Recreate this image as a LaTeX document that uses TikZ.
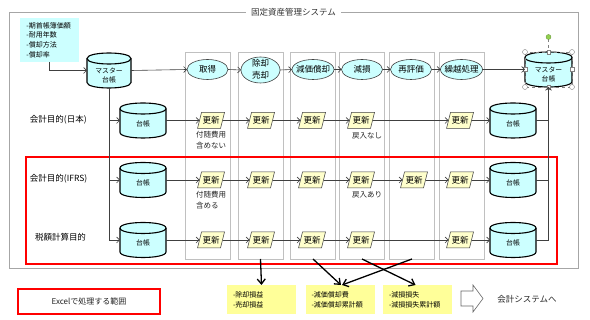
\documentclass[tikz,border=0pt]{standalone}
\usepackage{fontspec}
\setmainfont{Noto Sans CJK JP}
\usetikzlibrary{arrows.meta,shapes.geometric,calc}
\definecolor{cyanf}{HTML}{CCFFFF}
\definecolor{updf}{HTML}{FFFFCC}
\definecolor{yelf}{HTML}{FFFF99}
\definecolor{grayl}{HTML}{C0C0C0}
\definecolor{frameg}{HTML}{A6A6A6}
\definecolor{linec}{HTML}{404040}
\definecolor{handleg}{HTML}{92D050}
\newcommand{\dbcyl}[7]{%
 \filldraw[cylst] ({#2-#4},{#3-#5+5.5}) -- ({#2-#4},{#3+#5-5.5}) .. controls ({#2-#4},{#3+#5+1.83}) and ({#2+#4},{#3+#5+1.83}) .. ({#2+#4},{#3+#5-5.5}) -- ({#2+#4},{#3-#5+5.5}) .. controls ({#2+#4},{#3-#5-1.83}) and ({#2-#4},{#3-#5-1.83}) .. cycle;
 \draw[cylline] ({#2-#4},{#3-#5+5.5}) .. controls ({#2-#4},{#3-#5+12.83}) and ({#2+#4},{#3-#5+12.83}) .. ({#2+#4},{#3-#5+5.5});
 \node[minimum width={2*#4},minimum height={2*#5}] (#1) at (#2,#3) {};
 \node[cyltext] (#1t) at (#2,{#3+#7}) {#6};
}
\newcommand{\updbox}[3]{%
 \filldraw[updst] ({#2-13.5},{#3+8}) -- ({#2-9.5},{#3-8}) -- ({#2+13.5},{#3-8}) -- ({#2+9.5},{#3+8}) -- cycle;
 \node[updtext] (#1) at (#2,#3) {更新};
}
\begin{document}
\begin{tikzpicture}[x=1pt,y=-1pt,
  every node/.style={inner sep=0pt,outer sep=0pt,text=black},
  cylst/.style={draw=black,line width=1.1pt,fill=cyanf},
  cylline/.style={draw=black,line width=1.1pt},
  cyltext/.style={align=center,font=\fontsize{6.8}{8.3}\selectfont},
  updst/.style={draw=linec,line width=0.5pt,fill=updf},
  updtext/.style={minimum width=23pt,minimum height=15pt,font=\fontsize{8.5}{9}\selectfont},
  proc/.style={ellipse,draw=linec,line width=0.6pt,fill=cyanf,font=\fontsize{8.5}{10}\selectfont},
  colbox/.style={draw=grayl,line width=0.8pt,minimum width=45pt,minimum height=207pt},
  conn/.style={draw=linec,line width=0.6pt,-{Straight Barb[length=3pt,width=6pt]}},
  plainln/.style={draw=linec,line width=0.6pt},
  bigarr/.style={draw=black,line width=1.3pt,-{Straight Barb[length=5pt,width=8pt]}},
  lbl/.style={font=\fontsize{8.5}{10}\selectfont},
  note/.style={align=left,font=\fontsize{7.5}{11}\selectfont,text=black!85},
  yelbox/.style={fill=yelf,minimum width=69pt,minimum height=29pt,text width=57pt,align=left,font=\fontsize{7}{10}\selectfont}
]
\useasboundingbox (0,0) rectangle (590,320);
\fill[white] (0,0) rectangle (590,320);
% outer frame
\draw[frameg,line width=0.8pt] (9,12) rectangle (578,268);
\node[fill=white,inner xsep=5pt,inner ysep=2pt,font=\fontsize{8.5}{10}\selectfont,text=black!80] (ttl) at (293.5,12) {固定資産管理システム};
% columns
\node[colbox] (k1) at (207.5,155.5) {};
\node[colbox] (k2) at (260.5,155.5) {};
\node[colbox] (k3) at (313,155.5) {};
\node[colbox] (k4) at (362,155.5) {};
\node[colbox] (k5) at (412,155.5) {};
\node[colbox] (k6) at (461.5,155.5) {};
% red region
\draw[red,line width=1.3pt] (26,157) rectangle (557,264);
% info box
\node[fill=cyanf,minimum width=59pt,minimum height=44pt,text width=46pt,align=left,font=\fontsize{7}{9.7}\selectfont] (info) at (49.5,40) {-期首帳簿価額\\-耐用年数\\-償却方法\\-償却率};
% cylinders
\dbcyl{mL}{109}{70.5}{22}{17.5}{マスター\\台帳}{5}
\dbcyl{mR}{548.5}{69.5}{23.5}{17.5}{マスター\\台帳}{5}
\dbcyl{c1}{143}{120.5}{23}{17.5}{台帳}{3}
\dbcyl{c2}{143}{180}{23}{17.5}{台帳}{3}
\dbcyl{c3}{143}{240}{23}{17.5}{台帳}{3}
\dbcyl{r1}{513}{120.5}{23}{17.5}{台帳}{3}
\dbcyl{r2}{513}{180}{23}{17.5}{台帳}{3}
\dbcyl{r3}{513}{240}{23}{17.5}{台帳}{3}
% selection handles on right master
\draw[gray,line width=0.4pt,dashed] (525,52) rectangle (572,87);
\draw[gray,line width=0.4pt,dashed] (548.5,39.5) -- (548.5,52);
\foreach \p in {(525,52),(572,52),(525,87),(572,87)} \filldraw[fill=white,draw=gray,line width=0.4pt] \p circle (2.5);
\foreach \p in {(548.5,52),(548.5,87),(525,69.5),(572,69.5)} \filldraw[fill=white,draw=gray,line width=0.4pt] \p ++(-1.8,-1.8) rectangle ++(3.6,3.6);
\filldraw[fill=handleg,draw=handleg!70!black,line width=0.3pt] (548.5,37) circle (2.5);
% process ellipses
\node[proc,minimum width=41pt,minimum height=20pt] (e1) at (207.5,69.5) {\makebox[0pt]{取得}};
\node[proc,minimum width=39pt,minimum height=26pt] (e2) at (260.5,70) {};
\node[align=center,font=\fontsize{8.5}{12.5}\selectfont] (e2t) at (260.5,69.5) {除却\\売却};
\node[proc,minimum width=42pt,minimum height=20pt] (e3) at (313,69.5) {\makebox[0pt]{減価償却}};
\node[proc,minimum width=41pt,minimum height=20pt] (e4) at (362,69.5) {\makebox[0pt]{減損}};
\node[proc,minimum width=41pt,minimum height=20pt] (e5) at (411,69.5) {\makebox[0pt]{再評価}};
\node[proc,minimum width=42pt,minimum height=20pt] (e6) at (461.5,69.5) {\makebox[0pt]{繰越処理}};
% update boxes
\updbox{u11}{211}{120.5}
\updbox{u12}{261}{120.5}
\updbox{u13}{312}{120.5}
\updbox{u14}{361}{120.5}
\updbox{u16}{460}{120.5}
\updbox{u21}{211}{180}
\updbox{u22}{261}{180}
\updbox{u23}{312}{180}
\updbox{u24}{361}{180}
\updbox{u25}{414}{180}
\updbox{u26}{460}{180}
\updbox{u31}{211}{240}
\updbox{u32}{261}{240}
\updbox{u33}{312}{240}
\updbox{u34}{361}{240}
\updbox{u36}{460}{240}
% row labels
\node[lbl,anchor=west] (l1) at (30,119.5) {会計目的(日本)};
\node[lbl,anchor=west] (l2) at (30,179) {会計目的(IFRS)};
\node[lbl,anchor=west] (l3) at (35,237.5) {税額計算目的};
% notes
\node[note,anchor=north west] (n11) at (196,131.5) {付随費用\\含めない};
\node[note,anchor=north west] (n14) at (352,132) {戻入なし};
\node[note,anchor=north west] (n21) at (196,191.5) {付随費用\\含める};
\node[note,anchor=north west] (n24) at (352,191.5) {戻入あり};
% connectors top
\draw[conn] (info.south) |- (mL.west);
\draw[conn] (mL.east) -- (e1.west);
\draw[conn] (e1.east) -- (e2.west);
\draw[conn] (e2.east) -- (e3.west);
\draw[conn] (e3.east) -- (e4.west);
\draw[conn] (e4.east) -- (e5.west);
\draw[conn] (e5.east) -- (e6.west);
\draw[conn] (e6.east) -- (mR.west);
% left distribution
\draw[conn] (mL.south) |- (c1.west);
\draw[conn] (mL.south) |- (c2.west);
\draw[conn] (mL.south) |- (c3.west);
% row 1
\draw[conn] (c1.east) -- (u11.west);
\draw[conn] (u11.east) -- (u12.west);
\draw[conn] (u12.east) -- (u13.west);
\draw[conn] (u13.east) -- (u14.west);
\draw[conn] (u14.east) -- (u16.west);
\draw[conn] (u16.east) -- (r1.west);
% row 2
\draw[conn] (c2.east) -- (u21.west);
\draw[conn] (u21.east) -- (u22.west);
\draw[conn] (u22.east) -- (u23.west);
\draw[conn] (u23.east) -- (u24.west);
\draw[conn] (u24.east) -- (u25.west);
\draw[conn] (u25.east) -- (u26.west);
\draw[conn] (u26.east) -- (r2.west);
% row 3
\draw[conn] (c3.east) -- (u31.west);
\draw[conn] (u31.east) -- (u32.west);
\draw[conn] (u32.east) -- (u33.west);
\draw[conn] (u33.east) -- (u34.west);
\draw[conn] (u34.east) -- (u36.west);
\draw[conn] (u36.east) -- (r3.west);
% right collection
\draw[plainln] (r1.east) -- (r1.east -| mR.south);
\draw[plainln] (r2.east) -- (r2.east -| mR.south);
\draw[conn] (r3.east) -| (mR.south);
% bottom boxes
\node[yelbox] (y1) at (261.5,299.5) {-除却損益\\-売却損益};
\node[yelbox] (y2) at (340,299.5) {-減価償却費\\-減価償却累計額};
\node[yelbox] (y3) at (417.5,299.5) {-減損損失\\-減損損失累計額};
\draw[bigarr] (k2.south) -- (y1.north);
\draw[bigarr] (k3.south) -- ([xshift=1pt]y2.north);
\draw[bigarr] (k4.south) -- ([xshift=-2pt]y3.north);
\draw[bigarr] (k5.south) -- ([xshift=2pt]y2.north);
% legend
\node[draw=red,line width=1.3pt,minimum width=142pt,minimum height=25pt,font=\fontsize{8}{10}\selectfont,text=black!85] (leg) at (89,301.5) {Excelで処理する範囲};
% hollow arrow
\filldraw[fill=white,draw=gray!80!black,line width=0.6pt] (461,291) -- (473,291) -- (473,285) -- (483,298.5) -- (473,312) -- (473,306) -- (461,306) -- cycle;
\node[font=\fontsize{8.5}{10}\selectfont,text=black!85] (acc) at (527,299) {会計システムへ};
\end{tikzpicture}
\end{document}
